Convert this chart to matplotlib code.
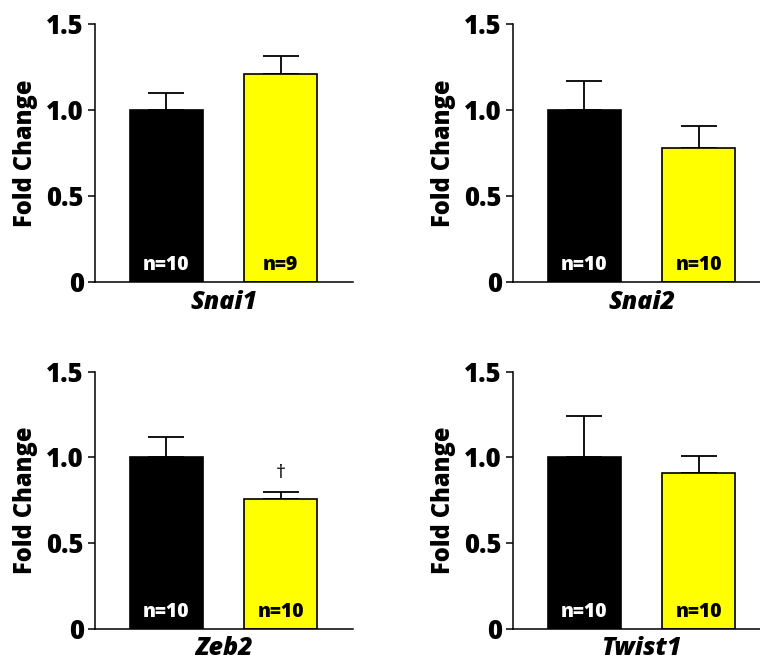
import matplotlib.pyplot as plt

plt.rcParams['font.family'] = ['Open Sans', 'DejaVu Sans']

genes = ['Snai1', 'Snai2', 'Zeb2', 'Twist1']
ctrl_mean = [1.0, 1.0, 1.0, 1.0]
ctrl_err = [0.10, 0.17, 0.12, 0.24]
treat_mean = [1.21, 0.78, 0.755, 0.91]
treat_err = [0.105, 0.125, 0.045, 0.10]
ctrl_n = ['n=10', 'n=10', 'n=10', 'n=10']
treat_n = ['n=9', 'n=10', 'n=10', 'n=10']
marks = ['', '', '\u2020', '']

yticks = [0, 0.5, 1.0, 1.5]
yticklabels = ['0', '0.5', '1.0', '1.5']

fig = plt.figure(figsize=(7.6, 6.61), dpi=100)

# axes rectangles [left, bottom, width, height] in figure fraction
boxes = [
    [0.125, 0.5734, 0.3395, 0.3903],
    [0.675, 0.5734, 0.3395, 0.3903],
    [0.125, 0.0489, 0.3395, 0.3888],
    [0.675, 0.0489, 0.3395, 0.3888],
]

W = 800  # heavy weight, closest to the original bold face

for i, g in enumerate(genes):
    ax = fig.add_axes(boxes[i])
    x = [1, 2]
    ax.bar(x, [ctrl_mean[i], treat_mean[i]], width=0.64,
           color=['black', '#ffff00'], edgecolor='black', linewidth=1.2, zorder=2)
    ax.errorbar(x, [ctrl_mean[i], treat_mean[i]],
                yerr=[[0, 0], [ctrl_err[i], treat_err[i]]],
                fmt='none', ecolor='black', elinewidth=1.3, capsize=13,
                capthick=1.3, zorder=1)
    ax.text(1, 0.1, ctrl_n[i], color='white', ha='center', va='center',
            fontsize=14, fontweight=W)
    ax.text(2, 0.1, treat_n[i], color='black', ha='center', va='center',
            fontsize=14, fontweight=W)
    if marks[i]:
        ax.text(2, treat_mean[i] + treat_err[i] + 0.11, marks[i], ha='center',
                va='center', fontsize=14)
    ax.text(1.5, -0.045, g, transform=ax.transData, ha='center', va='top',
            fontsize=18, fontweight=W, style='italic')

    ax.set_xlim(0.373, 2.636)
    ax.set_ylim(0, 1.5)
    ax.set_yticks(yticks)
    ax.set_yticklabels(yticklabels, fontsize=18.5, fontweight=W)
    ax.set_xticks([])
    ax.set_ylabel('Fold Change', fontsize=17, fontweight=W, labelpad=6)
    ax.spines['top'].set_visible(False)
    ax.spines['right'].set_visible(False)
    ax.spines['left'].set_linewidth(1.1)
    ax.spines['bottom'].set_linewidth(1.1)
    ax.tick_params(axis='y', length=5, width=1.1, pad=3)

fig.savefig('out.png', dpi=100)
